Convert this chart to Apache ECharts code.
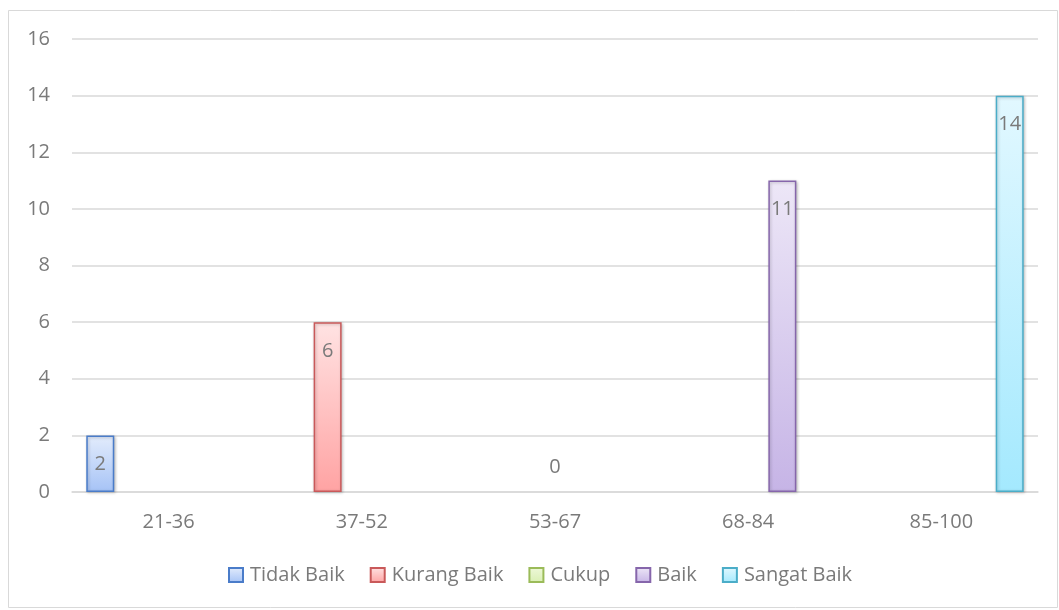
<!DOCTYPE html>
<html>
<head>
<meta charset="utf-8">
<style>
  html, body { margin: 0; padding: 0; background: #ffffff; }
  #chart { width: 1059px; height: 610px; }
</style>
<script src="https://cdn.jsdelivr.net/npm/echarts@6/dist/echarts.min.js"></script>
</head>
<body>
<div id="chart"></div>
<script>
// Score ranges on the horizontal axis
const categories = ['21-36', '37-52', '53-67', '68-84', '85-100'];

// One series per rating; each rating only has a count in its own range
const seriesNames = ['Tidak Baik', 'Kurang Baik', 'Cukup', 'Baik', 'Sangat Baik'];
const tidakBaik  = [2, null, null, null, null];
const kurangBaik = [null, 6, null, null, null];
const cukup      = [null, null, 0, null, null];
const baik       = [null, null, null, 11, null];
const sangatBaik = [null, null, null, null, 14];

const yMin = 0, yMax = 16, yStep = 2;

// Border colour, gradient top colour, gradient bottom colour per series
const palette = [
  ['#4a7cc9', '#e3ecfc', '#a6c3f6'],
  ['#c9595a', '#ffe3e3', '#ffa3a3'],
  ['#9bbb59', '#eef8d9', '#d9efb3'],
  ['#8666ab', '#ede7f7', '#c6b4e6'],
  ['#4badc8', '#e2f8ff', '#a4e9fe']
];

const values = [tidakBaik, kurangBaik, cukup, baik, sangatBaik];
const FONT = '"Open Sans", "Noto Sans", sans-serif';
const TEXT = '#7a7a7a';

const series = values.map((vals, i) => ({
  name: seriesNames[i],
  type: 'bar',
  barWidth: 28,
  barGap: '22%',
  data: vals.map(v => {
    if (v === 0) {
      // a zero-height column: only its value label is visible
      return {
        value: v,
        itemStyle: { borderWidth: 0, shadowBlur: 0, shadowOffsetX: 0, shadowOffsetY: 0 },
        label: { position: 'top', distance: 15 }
      };
    }
    return v;
  }),
  itemStyle: {
    borderColor: palette[i][0],
    borderWidth: 1.5,
    color: {
      type: 'linear', x: 0, y: 0, x2: 0, y2: 1,
      colorStops: [
        { offset: 0, color: palette[i][1] },
        { offset: 1, color: palette[i][2] }
      ]
    },
    shadowColor: 'rgba(0,0,0,0.22)',
    shadowBlur: 3,
    shadowOffsetX: 1,
    shadowOffsetY: 1
  },
  label: {
    show: true,
    position: 'insideTop',
    distance: 19,
    color: TEXT,
    fontFamily: FONT,
    fontSize: 20
  }
}));

const chart = echarts.init(document.getElementById('chart'), null, { renderer: 'canvas' });
chart.setOption({
  animation: false,
  backgroundColor: '#ffffff',
  graphic: [{
    type: 'rect',
    shape: { x: 8.5, y: 10.5, width: 1049, height: 597 },
    style: { fill: 'none', stroke: '#d9d9d9', lineWidth: 1 },
    silent: true,
    z: -1
  }],
  grid: { left: 72, right: 21, top: 39, bottom: 118, containLabel: false },
  xAxis: {
    type: 'category',
    data: categories,
    axisLine: { show: true, lineStyle: { color: '#d9d9d9', width: 1.5 } },
    axisTick: { show: false },
    axisLabel: { color: TEXT, fontFamily: FONT, fontSize: 20, margin: 20 }
  },
  yAxis: {
    type: 'value',
    min: yMin,
    max: yMax,
    interval: yStep,
    axisLine: { show: false },
    axisTick: { show: false },
    axisLabel: { color: TEXT, fontFamily: FONT, fontSize: 20, margin: 22 },
    splitLine: { lineStyle: { color: '#d9d9d9', width: 1.5 } }
  },
  legend: {
    data: seriesNames,
    bottom: 20,
    left: 223,
    icon: 'rect',
    itemWidth: 14,
    itemHeight: 14,
    itemGap: 25,
    textStyle: { color: TEXT, fontFamily: FONT, fontSize: 20, padding: [0, 0, 0, 2] }
  },
  series: series
});
</script>
</body>
</html>
